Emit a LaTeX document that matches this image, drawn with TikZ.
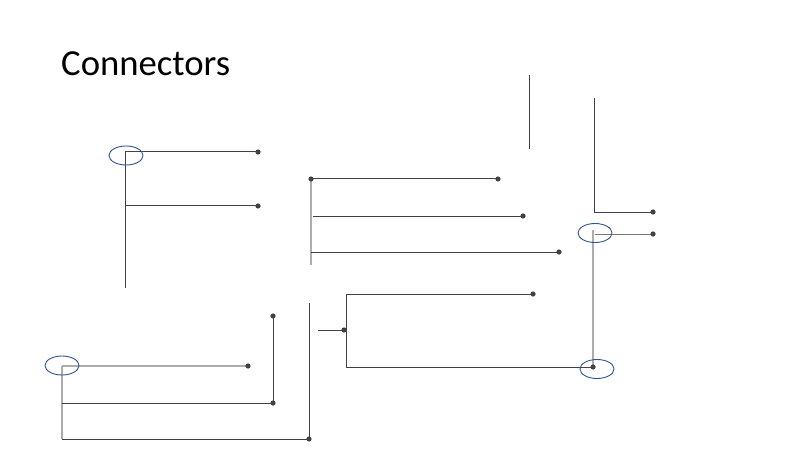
\documentclass[tikz,border=0pt]{standalone}
\usepackage{fontspec}
\setmainfont{Carlito}
\usetikzlibrary{shapes.geometric}
\definecolor{lineDark}{RGB}{66,66,70}
\definecolor{lineMid}{RGB}{120,120,124}
\definecolor{lineGray}{RGB}{172,172,172}
\definecolor{ringBlue}{RGB}{47,85,151}
\tikzset{
  wire/.style={draw=lineDark, line width=1pt},
  wiremid/.style={draw=lineMid, line width=1pt},
  wirelight/.style={draw=lineGray, line width=1.8pt},
  ring/.style={draw=ringBlue, line width=0.9pt, ellipse, minimum width=34pt,
    minimum height=19pt, inner sep=0pt},
  dot/.style={fill=lineDark}
}
\begin{document}
\begin{tikzpicture}[x=1pt,y=-1pt]
  \useasboundingbox (0,0) rectangle (800,449);
  \node[anchor=base west, inner sep=0pt, font=\fontsize{36.7}{40}\selectfont] (title) at (61,76) {Connectors};
  % top left
  \coordinate (A0) at (125,152); \coordinate (A1) at (125,288);
  \coordinate (A2) at (258,152); \coordinate (A3) at (125,206);
  \coordinate (A4) at (258,206);
  \draw[wire] (A1) -- (A0) -- (A2);
  \draw[wire] (A3) -- (A4);
  \node[ring] (ringA) at (126,155.5) {};
  % middle top
  \coordinate (B0) at (311,179); \coordinate (B1) at (311,265);
  \coordinate (B2) at (498,179); \coordinate (B3) at (313,216);
  \coordinate (B4) at (523,216); \coordinate (B5) at (311,252);
  \coordinate (B6) at (559,252);
  \draw[wirelight] (B0) -- (B1);
  \draw[wire] (B0) -- (B2);
  \draw[wire] (B3) -- (B4);
  \draw[wire] (B5) -- (B6);
  \coordinate (C0) at (529,75); \coordinate (C1) at (529,149);
  \draw[wire] (C0) -- (C1);
  % right
  \coordinate (D0) at (594,98); \coordinate (D1) at (594,212);
  \coordinate (D2) at (653,212); \coordinate (D3) at (593,230);
  \coordinate (D4) at (595,234); \coordinate (D5) at (653,234);
  \draw[wire] (D0) -- (D1) -- (D2);
  \draw[wiremid] (D4) -- (D5);
  % middle bottom
  \coordinate (E0) at (318,330); \coordinate (E1) at (344,330);
  \coordinate (E2) at (346,294); \coordinate (E3) at (346,367);
  \coordinate (E4) at (533,294); \coordinate (E5) at (593,367);
  \draw[wirelight] (D3) -- (E5);
  \draw[wire] (E0) -- (E1);
  \draw[wire] (E4) -- (E2) -- (E3) -- (E5);
  \node[ring] (ringD) at (595,233) {};
  \node[ring] (ringE) at (597,369) {};
  % bottom left
  \coordinate (F0) at (62,366); \coordinate (F1) at (62,439);
  \coordinate (F2) at (248,366); \coordinate (F3) at (62,403);
  \coordinate (F4) at (273,403); \coordinate (F5) at (273,316);
  \coordinate (F7) at (309,439); \coordinate (F8) at (309,303);
  \draw[wirelight] (F0) -- (F1);
  \draw[wirelight] (F0) -- (F2);
  \draw[wire] (F3) -- (F4) -- (F5);
  \draw[wire] (F1) -- (F7) -- (F8);
  \node[ring] (ringF) at (62,365.5) {};
  \foreach \P in {A2,A4,B0,B2,B4,B6,D2,D5,E1,E4,E5,F2,F4,F5,F7}
    \fill[dot] (\P) circle (2.6pt);
\end{tikzpicture}
\end{document}
